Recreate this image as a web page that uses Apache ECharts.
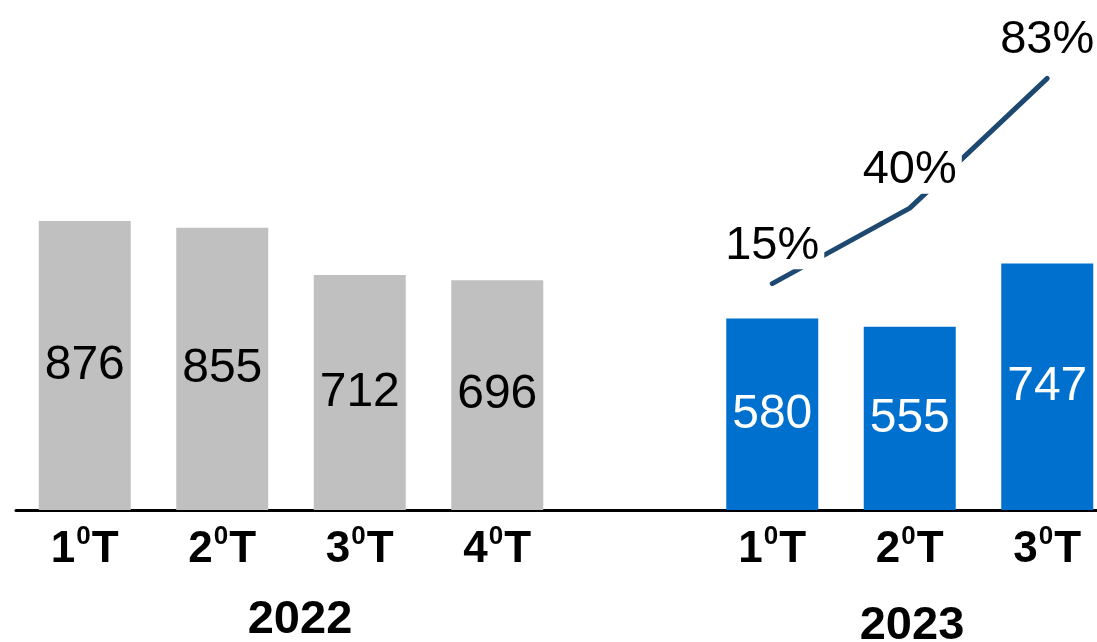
<!DOCTYPE html>
<html>
<head>
<meta charset="utf-8">
<script src="https://cdn.jsdelivr.net/npm/echarts@6/dist/echarts.min.js"></script>
<style>
  html, body { margin: 0; padding: 0; background: #fff; }
  #chart { width: 1097px; height: 642px; }
</style>
</head>
<body>
<div id="chart"></div>
<script>
  // quarters (empty slot = gap between the two years)
  var quarters = ['1', '2', '3', '4', '', '1', '2', '3'];
  var years = ['2022', '2023'];
  var values2022 = [876, 855, 712, 696, '-', '-', '-', '-'];
  var values2023 = ['-', '-', '-', '-', '-', 580, 555, 747];
  var growth = ['-', '-', '-', '-', '-', 15, 40, 83];

  var font = 'Liberation Sans, Arial, sans-serif';

  var chart = echarts.init(document.getElementById('chart'));
  var option = {
    animation: false,
    grid: { left: 16, top: 15, bottom: 132, width: 1100, outerBoundsMode: 'none', containLabel: false },
    xAxis: {
      type: 'category',
      data: quarters,
      axisLine: { lineStyle: { color: '#000', width: 3 } },
      axisTick: { show: false },
      axisLabel: {
        interval: 0,
        margin: 18,
        formatter: function (v) {
          return v ? '{n|' + v + '}{s|0}{n|T}' : '';
        },
        rich: {
          n: { fontFamily: font, fontWeight: 'bold', fontSize: 44, lineHeight: 44, color: '#000' },
          // superscript, lifted with bottom padding
          s: { fontFamily: font, fontWeight: 'bold', fontSize: 26, lineHeight: 14, padding: [0, 1, 26, 1], color: '#000' }
        }
      }
    },
    yAxis: [
      { type: 'value', min: 0, max: 1500, show: false },
      { type: 'value', min: -60, max: 104, show: false }
    ],
    series: [
      {
        name: '2022',
        type: 'bar',
        stack: 'q',
        barWidth: 92,
        data: values2022,
        itemStyle: { color: '#C0C0C0' },
        label: {
          show: true, position: 'inside',
          fontFamily: font, fontSize: 48, color: '#000'
        }
      },
      {
        name: '2023',
        type: 'bar',
        stack: 'q',
        barWidth: 92,
        data: values2023,
        itemStyle: { color: '#0070CE' },
        label: {
          show: true, position: 'inside',
          fontFamily: font, fontSize: 48, color: '#fff'
        }
      },
      {
        name: 'growth',
        type: 'line',
        yAxisIndex: 1,
        data: growth,
        symbol: 'circle',
        symbolSize: 1,
        showSymbol: true,
        itemStyle: { color: 'rgba(0,0,0,0)' },
        lineStyle: { color: '#1D4870', width: 5, cap: 'round' },
        label: {
          show: true, position: 'top', distance: 14,
          fontFamily: font, fontSize: 47, color: '#000',
          backgroundColor: '#fff', padding: [0, 5, 0, 5],
          formatter: '{c}%'
        },
        z: 5
      }
    ],
    graphic: [
      {
        type: 'text', x: 300, y: 597,
        style: { text: years[0], font: 'bold 47px ' + font, fill: '#000', align: 'center', verticalAlign: 'top' }
      },
      {
        type: 'text', x: 912, y: 603,
        style: { text: years[1], font: 'bold 47px ' + font, fill: '#000', align: 'center', verticalAlign: 'top' }
      }
    ]
  };
  chart.setOption(option);
</script>
</body>
</html>
